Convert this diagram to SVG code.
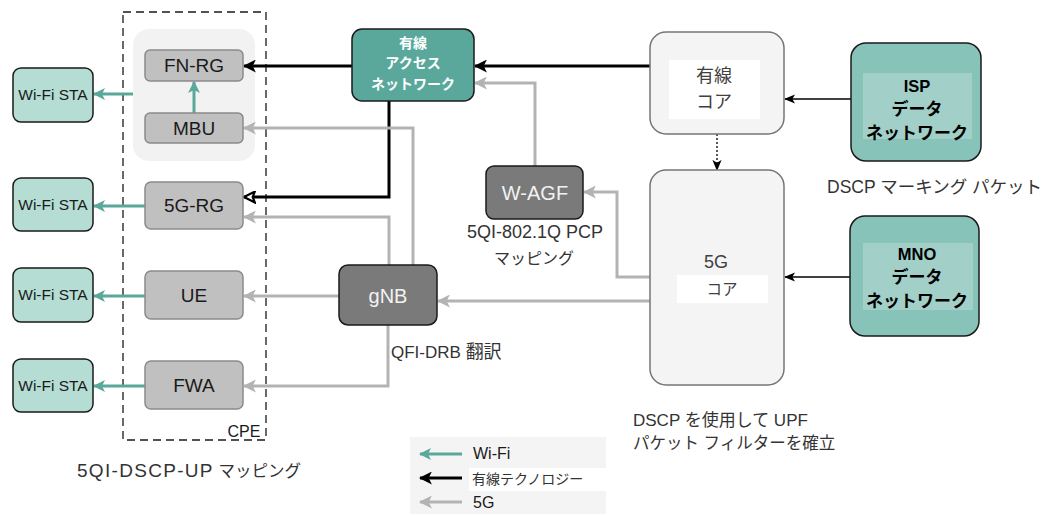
<svg xmlns="http://www.w3.org/2000/svg" width="1042" height="515" viewBox="0 0 1042 515">
<style>
text{font-family:"Liberation Sans","Noto Sans CJK JP",sans-serif}
.dev{fill:#c0c0c0;stroke:#8a8a8a;stroke-width:1.5}
.sta{fill:#b5ddd3;stroke:#1a1a1a;stroke-width:1.5}
.dark{fill:#7a7a7a;stroke:#1a1a1a;stroke-width:1.5}
.core{fill:#f4f4f4;stroke:#757575;stroke-width:1.5}
.dn{fill:#88c3ba;stroke:#1a1a1a;stroke-width:1.5}
.dni{fill:#a2cfc7}
.lbl{font-size:19px;fill:#1a1a1a;text-anchor:middle}
.sl{font-size:15.5px;fill:#1a1a1a;text-anchor:middle}
.wl{font-size:20px;fill:#f2f2f2;text-anchor:middle}
.bl{font-size:14px;font-weight:bold;text-anchor:middle}
.cl{font-size:18px;fill:#404040;text-anchor:middle}
.note{font-size:17px;fill:#333}
.teal{stroke:#5aa89a;stroke-width:3;fill:none}
.blk{stroke:#000;stroke-width:3;fill:none}
.gry{stroke:#b3b3b3;stroke-width:3;fill:none}
.thin{stroke:#000;stroke-width:1.3;fill:none}
</style>
<defs>
<marker id="mt" viewBox="0 0 12 12" refX="11" refY="6" markerWidth="12" markerHeight="12" markerUnits="userSpaceOnUse" orient="auto"><path d="M0,0 L12,6 L0,12 L3,6 z" fill="#5aa89a"/></marker>
<marker id="mb" viewBox="0 0 12 12" refX="11" refY="6" markerWidth="13" markerHeight="13" markerUnits="userSpaceOnUse" orient="auto"><path d="M0,0 L12,6 L0,12 L3,6 z" fill="#000"/></marker>
<marker id="mbo" viewBox="0 0 12 12" refX="11" refY="6" markerWidth="13" markerHeight="13" markerUnits="userSpaceOnUse" orient="auto"><path d="M1,1 L11,6 L1,11 L3,6 z" fill="#fff" stroke="#000" stroke-width="2"/></marker>
<marker id="mg" viewBox="0 0 12 12" refX="11" refY="6" markerWidth="13" markerHeight="13" markerUnits="userSpaceOnUse" orient="auto"><path d="M0,0 L12,6 L0,12 L3,6 z" fill="#b3b3b3"/></marker>
<marker id="mk" viewBox="0 0 12 12" refX="11" refY="6" markerWidth="11" markerHeight="11" markerUnits="userSpaceOnUse" orient="auto"><path d="M0,1 L12,6 L0,11 L3,6 z" fill="#000"/></marker>
</defs>

<g id="cpe">
<rect x="123" y="12" width="143" height="428" fill="none" stroke="#1a1a1a" stroke-width="1.3" stroke-dasharray="8,5"/>
<text x="244" y="437" font-size="16" fill="#1a1a1a" text-anchor="middle">CPE</text>
</g>
<g id="fn-group"><rect x="133" y="29" width="122" height="132" rx="16" fill="#f2f2f2"/></g>

<g id="connectors">
<line class="teal" x1="133" y1="94" x2="94" y2="94" marker-end="url(#mt)"/>
<line class="teal" x1="145" y1="206" x2="94" y2="206" marker-end="url(#mt)"/>
<line class="teal" x1="145" y1="296" x2="94" y2="296" marker-end="url(#mt)"/>
<line class="teal" x1="145" y1="386" x2="94" y2="386" marker-end="url(#mt)"/>
<line class="teal" x1="194" y1="113" x2="194" y2="82" marker-end="url(#mt)"/>
<line class="blk" x1="650" y1="66" x2="475" y2="66" marker-end="url(#mb)"/>
<line class="blk" x1="352" y1="66" x2="244" y2="66" marker-end="url(#mb)"/>
<polyline class="blk" points="389,101 389,197 244,197" marker-end="url(#mbo)"/>
<polyline class="gry" points="413,265 413,128 244,128" marker-end="url(#mg)"/>
<polyline class="gry" points="389,265 389,217 244,217" marker-end="url(#mg)"/>
<line class="gry" x1="339" y1="296" x2="244" y2="296" marker-end="url(#mg)"/>
<polyline class="gry" points="388,325 388,386 244,386" marker-end="url(#mg)"/>
<line class="gry" x1="650" y1="301" x2="438" y2="301" marker-end="url(#mg)"/>
<polyline class="gry" points="650,277 617,277 617,192 584,192" marker-end="url(#mg)"/>
<polyline class="gry" points="535,166 535,83 475,83" marker-end="url(#mg)"/>
<line x1="717" y1="134" x2="717" y2="170" stroke="#000" stroke-width="1.3" stroke-dasharray="2,2" marker-end="url(#mk)"/>
<line class="thin" x1="851" y1="99" x2="785" y2="99" marker-end="url(#mk)"/>
<line class="thin" x1="850" y1="277" x2="785" y2="277" marker-end="url(#mk)"/>
</g>

<g id="fn-rg"><rect class="dev" x="145" y="50" width="98" height="31" rx="5"/><text class="lbl" x="194" y="72">FN-RG</text></g>
<g id="mbu"><rect class="dev" x="145" y="113" width="98" height="30" rx="5"/><text class="lbl" x="194" y="135">MBU</text></g>
<g id="rg5g"><rect class="dev" x="145" y="182" width="98" height="47" rx="6"/><text class="lbl" x="194" y="212">5G-RG</text></g>
<g id="ue"><rect class="dev" x="145" y="271" width="98" height="48" rx="6"/><text class="lbl" x="194" y="302">UE</text></g>
<g id="fwa"><rect class="dev" x="145" y="361" width="98" height="48" rx="6"/><text class="lbl" x="194" y="392">FWA</text></g>

<g id="sta1"><rect class="sta" x="13" y="68" width="80" height="54" rx="8"/><text class="sl" x="53" y="100">Wi-Fi STA</text></g>
<g id="sta2"><rect class="sta" x="13" y="178" width="80" height="53" rx="8"/><text class="sl" x="53" y="210">Wi-Fi STA</text></g>
<g id="sta3"><rect class="sta" x="13" y="268" width="80" height="54" rx="8"/><text class="sl" x="53" y="300">Wi-Fi STA</text></g>
<g id="sta4"><rect class="sta" x="13" y="359" width="80" height="53" rx="8"/><text class="sl" x="53" y="391">Wi-Fi STA</text></g>

<g id="access"><rect x="352" y="29" width="122" height="72" rx="10" fill="#5aa89c" stroke="#1a1a1a" stroke-width="1.5"/>
<text class="bl" fill="#fff" x="413" y="48">有線</text>
<text class="bl" fill="#fff" x="413" y="68">アクセス</text>
<text class="bl" fill="#fff" x="413" y="89">ネットワーク</text></g>

<g id="wagf"><rect class="dark" x="486" y="166" width="97" height="53" rx="8"/><text class="wl" x="535" y="200">W-AGF</text></g>
<g id="gnb"><rect class="dark" x="339" y="265" width="98" height="60" rx="9"/><text class="wl" x="388" y="303">gNB</text></g>

<g id="wired-core"><rect class="core" x="650" y="32" width="134" height="102" rx="16"/>
<rect x="669" y="60" width="91" height="59" fill="#fff"/>
<text class="cl" x="714" y="82">有線</text>
<text class="cl" x="714" y="108">コア</text></g>

<g id="core5g"><rect class="core" x="650" y="170" width="134" height="215" rx="16"/>
<text class="cl" x="716" y="268">5G</text>
<rect x="677" y="275" width="91" height="28" fill="#fff"/>
<text class="cl" font-size="15" style="font-size:15.5px" x="722" y="295">コア</text></g>

<g id="isp"><rect class="dn" x="851" y="43" width="130" height="118" rx="15"/>
<rect class="dni" x="863" y="73" width="109" height="66"/>
<text class="bl" style="font-size:16.5px" x="917" y="92">ISP</text>
<text class="bl" style="font-size:17px" x="917" y="115">データ</text>
<text class="bl" style="font-size:17px" x="917" y="139">ネットワーク</text></g>

<g id="mno"><rect class="dn" x="850" y="216" width="129" height="120" rx="15"/>
<rect class="dni" x="863" y="243" width="110" height="67"/>
<text class="bl" style="font-size:16.5px" x="917" y="260">MNO</text>
<text class="bl" style="font-size:17px" x="917" y="283">データ</text>
<text class="bl" style="font-size:17px" x="917" y="307">ネットワーク</text></g>

<g id="notes">
<text class="note" x="827" y="193" style="font-size:17.5px">DSCP マーキング パケット</text>
<text class="note" x="467" y="238" style="font-size:18px">5QI-802.1Q PCP</text>
<text class="note" x="494" y="264" style="font-size:16px">マッピング</text>
<text class="note" x="391" y="358"><tspan style="font-size:17px">QFI-DRB</tspan> <tspan style="font-size:18px">翻訳</tspan></text>
<text class="note" x="633" y="426">DSCP を使用して UPF</text>
<text class="note" x="633" y="449" style="font-size:16.5px">パケット フィルターを確立</text>
<text class="note" x="77" y="477" fill="#1a1a1a"><tspan style="font-size:19px;letter-spacing:1.3px">5QI-DSCP-UP</tspan> <tspan style="font-size:16.5px">マッピング</tspan></text>
</g>

<g id="legend">
<rect x="410" y="437" width="196" height="77" fill="#f4f4f4"/>
<rect x="469" y="468" width="137" height="23" fill="#fff"/>
<line class="teal" x1="462" y1="454" x2="420" y2="454" marker-end="url(#mt)"/>
<line class="blk" x1="462" y1="478" x2="420" y2="478" marker-end="url(#mb)"/>
<line class="gry" x1="462" y1="502" x2="420" y2="502" marker-end="url(#mg)"/>
<text x="473" y="459" font-size="16" fill="#1a1a1a">Wi-Fi</text>
<text x="472" y="484" font-size="14" fill="#333">有線テクノロジー</text>
<text x="473" y="508" font-size="16" fill="#1a1a1a">5G</text>
</g>
</svg>
